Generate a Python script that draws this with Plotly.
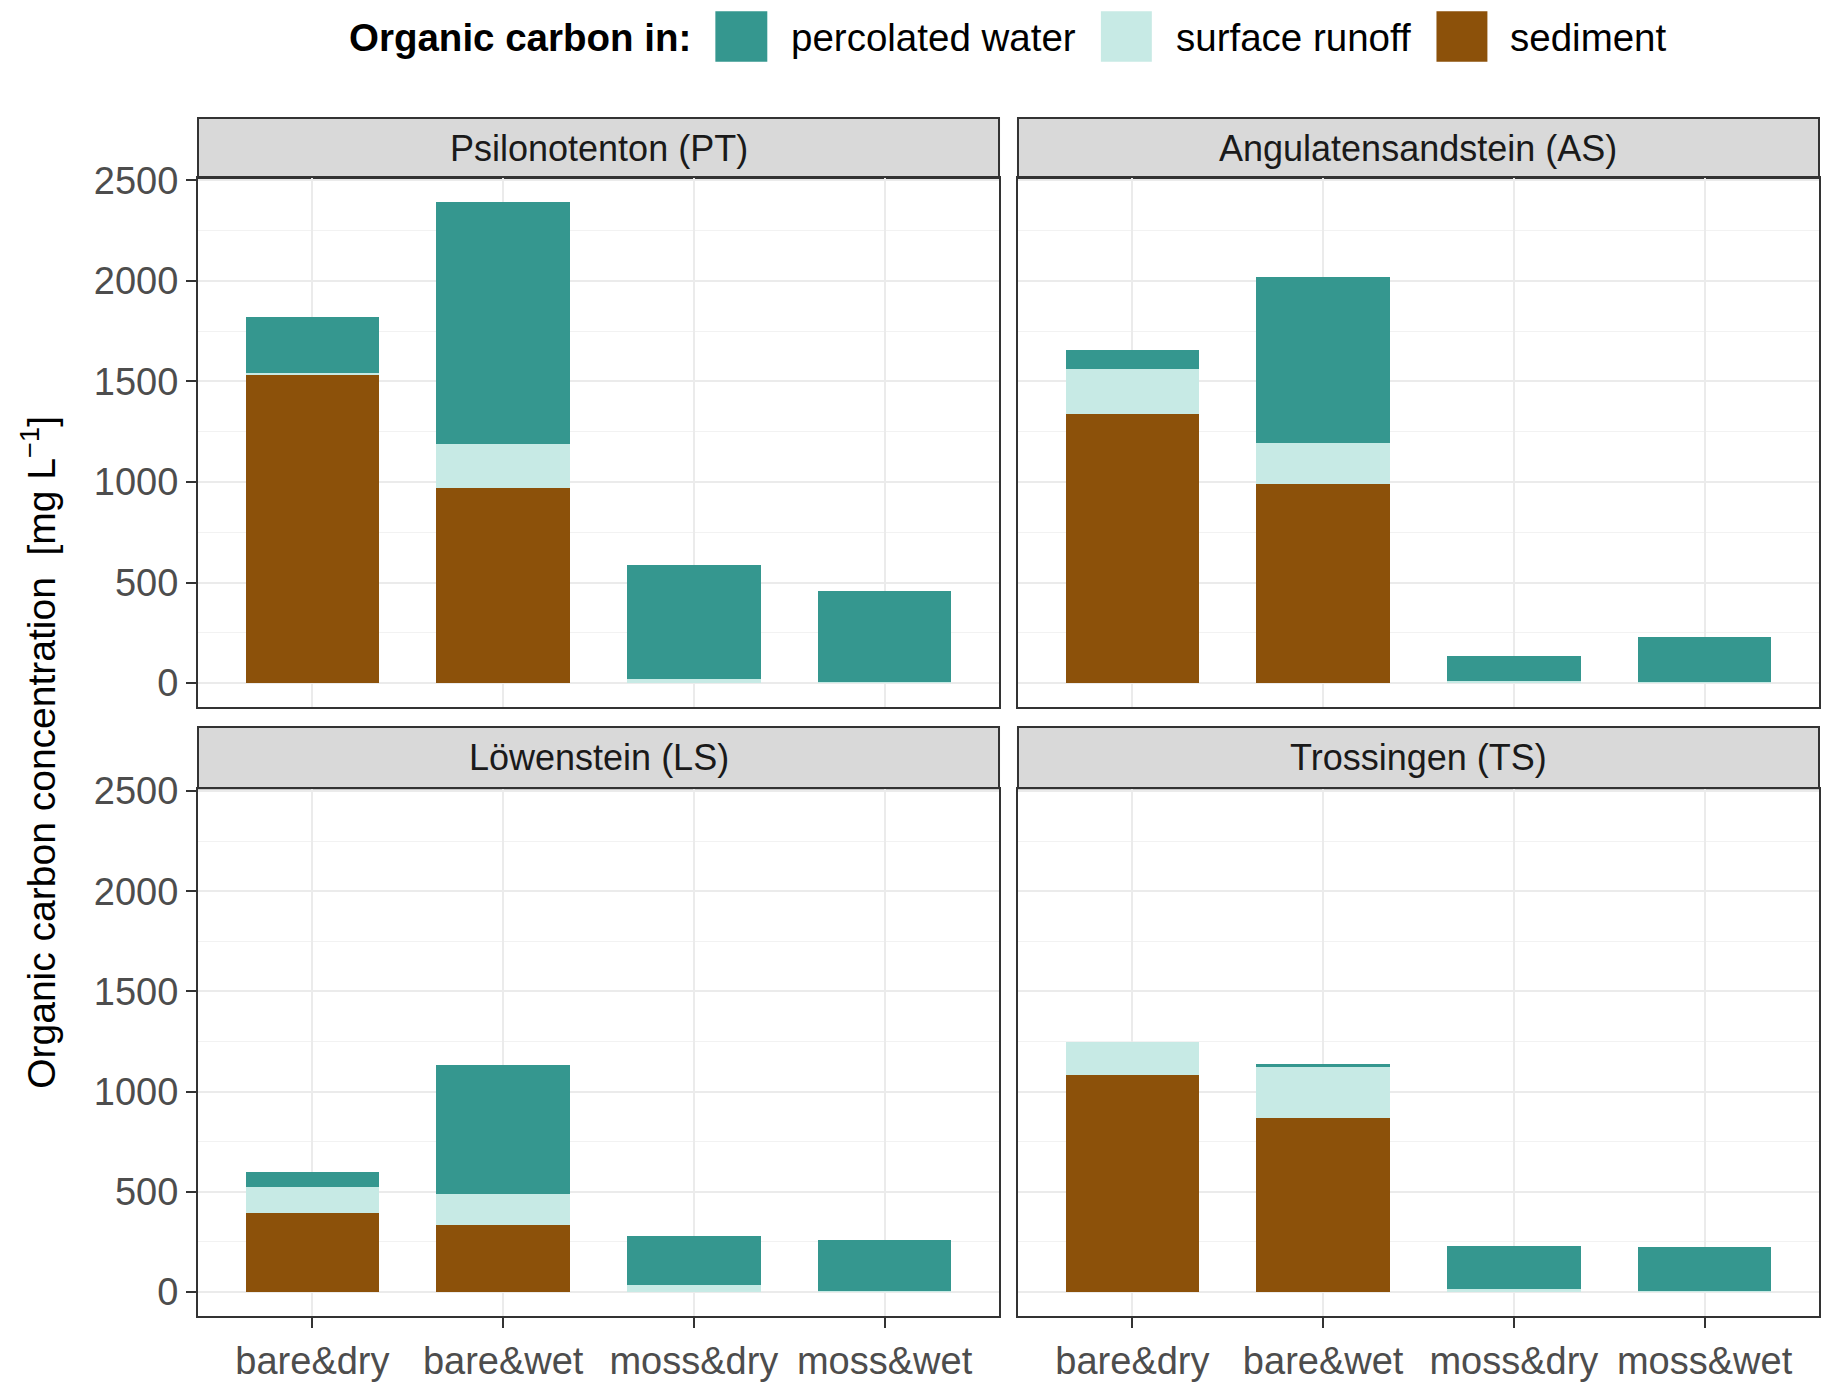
import plotly.graph_objects as go

# Data, stacked: sediment, surface runoff, percolated water
treatments = ["bare&dry", "bare&wet", "moss&dry", "moss&wet"]
panels = ["Psilonotenton (PT)", "Angulatensandstein (AS)", "Löwenstein (LS)", "Trossingen (TS)"]

sediment = {
    "PT": [1532, 968, 0, 0],
    "AS": [1337, 989, 0, 0],
    "LS": [394, 333, 0, 0],
    "TS": [1082, 870, 0, 0],
}
surface_runoff = {
    "PT": [8, 223, 21, 5],
    "AS": [223, 207, 12, 5],
    "LS": [128, 158, 35, 5],
    "TS": [167, 253, 17, 5],
}
percolated_water = {
    "PT": [279, 1199, 564, 451],
    "AS": [96, 825, 124, 223],
    "LS": [78, 641, 244, 257],
    "TS": [0, 13, 215, 220],
}

### Figure geometry ###
# the page body adds an 8px margin on every side, so the figure is drawn
# 16px smaller and everything is placed relative to the 8px offset
OFF = 8
W, H = 1831 - 2 * OFF, 1392 - 2 * OFF
ML, MR, MT, MB = 198 - OFF, 2, 118 - OFF, 54
PW = W - ML - MR
PH = H - MT - MB

def px_x(p):
    return (p - OFF - ML) / PW

def px_y(p):
    return (H - MB - (p - OFF)) / PH

FONT = "Liberation Sans, Arial, sans-serif"
col_perc = "#35978F"
col_run = "#C7EAE5"
col_sed = "#8C510A"

x_doms = [[0, px_x(1000)], [px_x(1019), 1]]
y_doms = [[px_y(714), px_y(179)], [0, px_y(797)]]
strip_doms = [[px_y(179), 1.0], [px_y(796), px_y(734)]]

fig = go.Figure()

codes = ["PT", "AS", "LS", "TS"]
for i, code in enumerate(codes):
    ax = "" if i == 0 else str(i + 1)
    for vals, col, name in [(sediment[code], col_sed, "sediment"),
                            (surface_runoff[code], col_run, "surface runoff"),
                            (percolated_water[code], col_perc, "percolated water")]:
        fig.add_trace(go.Bar(x=treatments, y=vals, name=name, marker=dict(color=col, line=dict(width=0)),
                             width=0.7, showlegend=False, xaxis="x" + ax, yaxis="y" + ax))

    r, c = divmod(i, 2)
    fig.update_layout(**{
        "xaxis" + ax: dict(domain=x_doms[c], anchor="y" + ax, range=[-0.6, 3.6],
                           showline=True, mirror=True, linecolor="#333333", linewidth=2,
                           showgrid=True, gridcolor="#EBEBEB", gridwidth=2,
                           ticks="outside" if r == 1 else "", ticklen=10, tickwidth=2, tickcolor="#333333",
                           showticklabels=(r == 1),
                           tickfont=dict(family=FONT, size=38, color="#4D4D4D")),
        "yaxis" + ax: dict(domain=y_doms[r], anchor="x" + ax, range=[-119.5, 2509.5],
                           tickvals=[0, 500, 1000, 1500, 2000, 2500],
                           showline=True, mirror=True, linecolor="#333333", linewidth=2,
                           showgrid=True, gridcolor="#EBEBEB", gridwidth=2, zeroline=False,
                           minor=dict(tickvals=[250, 750, 1250, 1750, 2250], showgrid=True,
                                      gridcolor="#F2F2F2", gridwidth=1),
                           ticks="outside" if c == 0 else "", ticklen=10, tickwidth=2, tickcolor="#333333",
                           showticklabels=(c == 0),
                           tickfont=dict(family=FONT, size=38, color="#4D4D4D")),
    })

    # strip header
    fig.add_shape(type="rect", xref="paper", yref="paper",
                  x0=x_doms[c][0], x1=x_doms[c][1], y0=strip_doms[r][0], y1=strip_doms[r][1],
                  fillcolor="#D9D9D9", line=dict(color="#333333", width=2), layer="below")
    fig.add_annotation(text=panels[i], xref="paper", yref="paper",
                       x=(x_doms[c][0] + x_doms[c][1]) / 2, y=(strip_doms[r][0] + strip_doms[r][1]) / 2,
                       xanchor="center", yanchor="middle",
                       showarrow=False, font=dict(family=FONT, size=36, color="#1A1A1A"))

# y axis title
fig.add_annotation(text="Organic carbon concentration\u00a0\u00a0[mg L<sup>\u22121</sup>]",
                   xref="paper", yref="paper", x=px_x(38), y=px_y(760), textangle=-90,
                   xanchor="center", yanchor="middle",
                   showarrow=False, font=dict(family=FONT, size=39, color="black"))

### Legend (drawn by hand to get ggplot-sized keys) ###
fig.add_annotation(text="<b>Organic carbon in:</b>", xref="paper", yref="paper",
                   x=px_x(347), y=px_y(37), xanchor="left", yanchor="middle", showarrow=False,
                   font=dict(family=FONT, size=38.5, color="black"))
for x0, x1, col, lab, tx in [(716, 768, col_perc, "percolated water", 790),
                             (1102, 1153, col_run, "surface runoff", 1175),
                             (1438, 1489, col_sed, "sediment", 1510)]:
    fig.add_shape(type="rect", xref="paper", yref="paper", x0=px_x(x0), x1=px_x(x1),
                  y0=px_y(61), y1=px_y(10), fillcolor=col, line=dict(width=0))
    fig.add_annotation(text=lab, xref="paper", yref="paper", x=px_x(tx), y=px_y(37),
                       xanchor="left", yanchor="middle", showarrow=False,
                       font=dict(family=FONT, size=38.5, color="black"))

fig.update_layout(width=W, height=H, barmode="stack", bargap=0.3,
                  margin=dict(l=ML, r=MR, t=MT, b=MB),
                  plot_bgcolor="white", paper_bgcolor="white",
                  font=dict(family=FONT), showlegend=False)

fig.write_html("out.html")
